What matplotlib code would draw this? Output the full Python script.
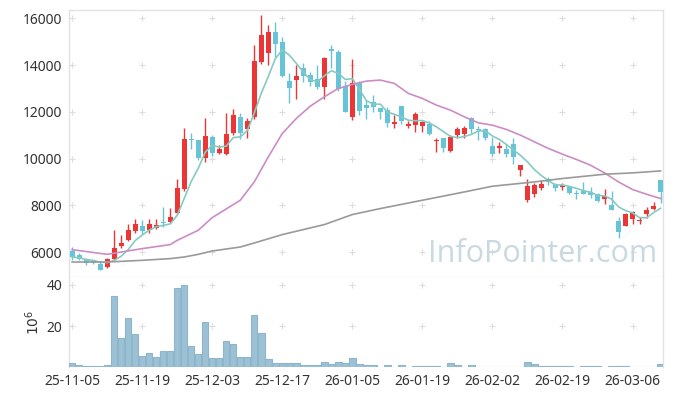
import matplotlib
matplotlib.use("Agg")
import matplotlib.pyplot as plt
import numpy as np
import pandas as pd

plt.rcParams['font.family'] = ['Noto Sans', 'DejaVu Sans']

# ---- data ----
tick_labels = ["25-11-05", "25-11-19", "25-12-03", "25-12-17", "26-01-05",
               "26-01-19", "26-02-02", "26-02-19", "26-03-06"]

opens = [6043, 5859, 5674, 5640, 5500, 5357, 5717, 6244, 6531, 6900,
         7130, 6930, 7046, 7290, 7286, 7671, 8717, 10850, 10787, 10030,
         10930, 10243, 10187, 11074, 11760, 11272, 11760, 14144, 14503, 15403,
         14988, 13330, 13359, 13860, 13573, 13390, 13073, 14680, 14573, 13100,
         11760, 13243, 12290, 12430, 12172, 12073, 11500, 12245, 11386, 11430,
         11386, 11473, 10760, 10860, 10329, 11002, 11045, 11717, 11260, 11246,
         10530, 10457, 10390, 10616, 9531, 8216, 8503, 8743, 9116, 8902,
         8786, 8786, 8520, 8614, 8572, 8503, 8290, 8000, 7330, 7114,
         7431, 7310, 7646, 7860, 9073]
highs = [6214, 5974, 5760, 5674, 5571, 5760, 6960, 6729, 7217, 7431,
         7389, 7430, 7430, 7930, 7903, 9116, 11289, 11074, 10800, 11717,
         11000, 10572, 11932, 12116, 11932, 11717, 14860, 16145, 15717, 15860,
         15190, 13650, 13990, 14080, 13715, 14002, 14360, 14860, 14645, 13300,
         14246, 13300, 12500, 12716, 12172, 12200, 11860, 12245, 11600, 11980,
         11600, 11600, 10886, 10900, 11000, 11360, 11400, 11800, 11400, 11300,
         10929, 10700, 10616, 10900, 9716, 9116, 8960, 9073, 9230, 8960,
         8960, 8830, 8650, 9000, 8790, 8530, 8700, 8600, 7500, 7690,
         7760, 7500, 7930, 8130, 9073]
lows = [5644, 5674, 5443, 5500, 5216, 5314, 5670, 6189, 6471, 6831,
        6789, 6814, 7000, 7071, 7243, 7630, 8614, 10389, 9930, 9860,
        10100, 10187, 10145, 11000, 10817, 10860, 11700, 14045, 14016, 14350,
        13474, 12400, 12570, 13286, 13102, 12960, 12570, 13860, 12900, 12000,
        11650, 11850, 11700, 12000, 11700, 11330, 11290, 11500, 11300, 11143,
        11150, 10990, 10286, 10290, 10290, 10900, 10890, 11100, 10780, 10800,
        10100, 10243, 10046, 9780, 9244, 8143, 8360, 8660, 8860, 8630,
        8670, 8470, 8290, 8470, 8330, 8143, 8060, 7816, 6600, 7100,
        7217, 7200, 7470, 7790, 8100]
closes = [5786, 5717, 5529, 5530, 5246, 5717, 6189, 6403, 6960, 7187,
          6900, 7217, 7144, 7243, 7500, 8760, 10817, 10800, 10030, 10960,
          10243, 10400, 11045, 11846, 11100, 11589, 14173, 15288, 15403, 14900,
          13530, 13016, 13530, 13530, 13287, 13073, 14290, 14620, 12960, 12000,
          13217, 12043, 12172, 12215, 12000, 11529, 11560, 11615, 11500, 11900,
          11559, 11045, 10800, 10457, 10903, 11246, 11315, 11246, 11230, 10860,
          10187, 10543, 10187, 10046, 9716, 8816, 8860, 8902, 9000, 8743,
          8860, 8529, 8490, 8503, 8430, 8186, 8387, 7816, 6857, 7616,
          7714, 7350, 7787, 7958, 8560]
volumes = [1.95, 1.0, 0.5, 0.5, 0.8, 1.0, 34.8, 14.1, 23.9, 16.1,
           5.5, 6.8, 4.9, 8.0, 8.0, 38.5, 39.7, 10.4, 6.3, 22.0,
           4.4, 4.4, 12.8, 11.4, 4.9, 4.9, 25.5, 16.7, 3.9, 1.95,
           1.95, 1.95, 1.95, 1.0, 1.0, 1.0, 2.4, 1.5, 2.4, 1.95,
           4.4, 1.5, 1.0, 1.0, 0.3, 1.0, 0.3, 1.0, 0.3, 0.8,
           0.8, 0.8, 0.8, 0.3, 1.95, 1.0, 0.3, 1.0, 0.3, 0.3,
           0.3, 0.3, 0.3, 0.3, 0.3, 2.4, 1.5, 0.5, 0.5, 0.5,
           0.5, 0.5, 0.1, 0.5, 0.5, 0.5, 0.1, 0.5, 0.5, 0.5,
           0.1, 0.1, 0.1, 0.3, 1.6]

ma20_days = [0, 5, 10, 14, 15, 18, 20, 24, 26, 28, 30, 32, 34, 36, 38, 40, 42, 44,
             46, 48, 50, 52, 54, 56, 58, 60, 62, 64, 66, 68, 70, 72, 74, 76, 78,
             80, 82, 84]
ma20_vals = [6100, 5900, 6145, 6317, 6500, 6930, 7474, 8216, 9000, 10072, 11074,
             11717, 12245, 12643, 13003, 13174, 13316, 13359, 13217, 12789, 12575,
             12288, 12073, 11786, 11529, 11430, 11246, 11002, 10715, 10432, 10187,
             9960, 9716, 9386, 9000, 8674, 8473, 8289]
ma60_days = [0, 5, 10, 14, 16, 18, 20, 24, 26, 30, 36, 40, 44, 50, 56, 60, 66, 70,
             76, 80, 84]
ma60_vals = [5571, 5571, 5644, 5717, 5786, 5900, 6043, 6214, 6386, 6746, 7174,
             7603, 7860, 8216, 8572, 8816, 9000, 9146, 9330, 9386, 9471]

# ---- figure ----
W, H = 673, 396
fig = plt.figure(figsize=(W / 100, H / 100), dpi=100)
fig.patch.set_facecolor("white")
L, R = 69, 663
ax = fig.add_axes([L / W, 1 - 277 / H, (R - L) / W, (277 - 10) / H])
axv = fig.add_axes([L / W, 1 - 367.3 / H, (R - L) / W, (367.3 - 277) / H], sharex=ax)

x = np.arange(len(closes))
o = np.array(opens, float); c = np.array(closes, float)
h = np.array(highs, float); lo = np.array(lows, float)
up = c >= o
red = "#ec3535"
blue = "#67c3d8"
colors = np.where(up, red, blue)

ax.vlines(x, lo, h, colors=colors, linewidth=1.0, zorder=3)
body_h = np.maximum(np.abs(c - o), 40)
ax.bar(x, body_h, bottom=np.minimum(o, c), width=0.72, color=colors,
       linewidth=0, zorder=4)

ma5 = pd.Series(c).rolling(5, min_periods=1).mean()
ax.plot(x, ma5, color="#85cbc3", lw=1.2, zorder=5)
ax.plot(ma20_days, ma20_vals, color="#cc8cc6", lw=1.2, zorder=5)
ax.plot(ma60_days, ma60_vals, color="#9a9a9a", lw=1.2, zorder=5)

ax.set_xlim(-0.45, 84.35)
ax.set_ylim(4930, 16360)
yt = [6000, 8000, 10000, 12000, 14000, 16000]
ax.set_yticks(yt)
ax.set_yticklabels([str(v) for v in yt])

xt = np.arange(0, len(closes), 10)[:len(tick_labels)]

ax.text(0.99, 0.085, "InfoPointer.com", transform=ax.transAxes, ha="right",
        va="center", fontsize=22, color="#c9d9e2", family=["Open Sans", "DejaVu Sans"],
        zorder=1)

# volume
axv.bar(x, volumes, width=0.92, color="#9dc1d4", edgecolor="#8db5cc",
        linewidth=0.8, zorder=3)
axv.set_ylim(0, 43.8)
axv.set_yticks([20, 40])
axv.set_yticklabels(["20", "40"])
axv.set_xticks(xt)
axv.set_xticklabels(tick_labels)
axv.text(-0.06, 0.5, r"$10^6$", transform=axv.transAxes, rotation=90,
         ha="center", va="center", fontsize=10, color="#333333")

# grid crosses
gx, gy = np.meshgrid(xt, yt)
ax.scatter(gx.ravel(), gy.ravel(), marker="+", s=18, color="#dddddd",
           linewidths=0.8, zorder=0.5)
gx2, gy2 = np.meshgrid(xt, [20, 40])
axv.scatter(gx2.ravel(), gy2.ravel(), marker="+", s=18, color="#dddddd",
            linewidths=0.8, zorder=0.5)

for a in (ax, axv):
    a.set_facecolor("white")
    for s in a.spines.values():
        s.set_color("#e2e2e2")
        s.set_linewidth(1.0)
    a.tick_params(length=0, labelsize=10, colors="#333333", pad=5)
plt.setp(ax.get_xticklabels(), visible=False)
axv.spines["bottom"].set_visible(False)
axv.spines["top"].set_visible(False)

fig.savefig("out.png", dpi=100, facecolor="white")
